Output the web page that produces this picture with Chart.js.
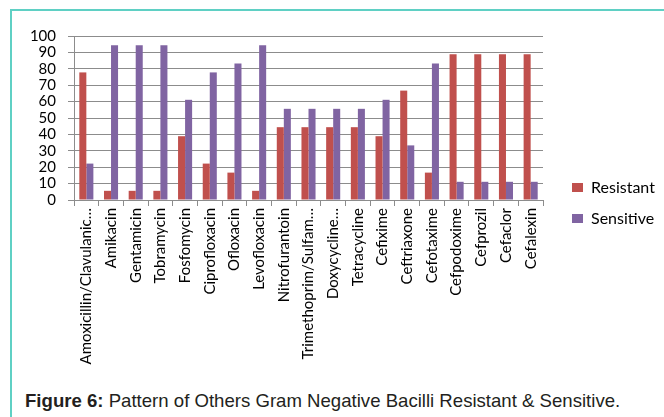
<!DOCTYPE html>
<html><head><meta charset="utf-8">
<script src="https://cdn.jsdelivr.net/npm/chart.js"></script>
<style>
html,body{margin:0;padding:0;background:#fff;}
#wrap{position:relative;width:664px;height:417px;overflow:hidden;background:#fff;}
#frameL{position:absolute;left:10px;top:9px;width:2px;height:408px;background:#5fd0c4;}
#frameT{position:absolute;left:10px;top:9px;width:654px;height:2px;background:#5fd0c4;}
canvas{position:absolute;left:0;top:0;}
#cap{position:absolute;left:25px;top:391px;font-family:"Liberation Sans",Arial,sans-serif;font-size:18.6px;line-height:1.12;color:#231f20;white-space:nowrap;}
</style></head>
<body><div id="wrap"><div id="frameL"></div><div id="frameT"></div>
<canvas id="c" width="664" height="380"></canvas>
<div id="cap"><b>Figure 6:</b> Pattern of Others Gram Negative Bacilli Resistant &amp; Sensitive.</div></div>
<script>
const categories = ["Amoxicillin/Clavulanic…","Amikacin","Gentamicin","Tobramycin","Fosfomycin","Ciprofloxacin","Ofloxacin","Levofloxacin","Nitrofurantoin","Trimethoprim/Sulfam…","Doxycycline…","Tetracycline","Cefixime","Ceftriaxone","Cefotaxime","Cefpodoxime","Cefprozil","Cefaclor","Cefalexin"];
const resistant = [77.8,5.6,5.6,5.6,38.9,22.2,16.7,5.6,44.4,44.4,44.4,44.4,38.9,66.7,16.7,88.9,88.9,88.9,88.9];
const sensitive = [22.2,94.4,94.4,94.4,61.1,77.8,83.3,94.4,55.6,55.6,55.6,55.6,61.1,33.3,83.3,11.1,11.1,11.1,11.1];
const seriesNames = ["Resistant","Sensitive"];
const yMin = 0, yMax = 100, yStep = 10;

const FONT = 'Lato, "Open Sans", sans-serif';
const GRID = '#8c8c8c';

const legendPlace = {
  id: 'legendPlace',
  afterLayout(chart) {
    const l = chart.legend;
    const pad = l.options.labels.padding;
    const w = l.width, h = l.height;
    l.left = 572 - pad; l.right = l.left + w;
    l.top = 164.5; l.bottom = l.top + h;
  }
};

new Chart(document.getElementById('c'), {
  type: 'bar',
  data: {
    labels: categories,
    datasets: [
      { label: seriesNames[0], data: resistant, backgroundColor: '#c0504d', categoryPercentage: 0.57, barPercentage: 1.0 },
      { label: seriesNames[1], data: sensitive, backgroundColor: '#8064a2', categoryPercentage: 0.57, barPercentage: 1.0 }
    ]
  },
  plugins: [legendPlace],
  options: {
    responsive: false,
    animation: false,
    layout: { padding: { left: 0, top: 36, right: 21, bottom: 0 } },
    plugins: {
      legend: {
        position: 'right', align: 'start', maxWidth: 100,
        labels: { font: { family: FONT, size: 16 }, color: '#000', boxWidth: 11, boxHeight: 9, padding: 15 }
      },
      tooltip: { enabled: false }
    },
    scales: {
      x: {
        grid: { drawOnChartArea: false, drawTicks: true, tickLength: 6, color: GRID, offset: true },
        border: { color: GRID },
        ticks: { autoSkip: false, maxRotation: 90, minRotation: 90, font: { family: FONT, size: 15 }, color: '#000', padding: 2 },
        afterFit(s) { s.height = 180; }
      },
      y: {
        min: yMin, max: yMax,
        grid: { color: GRID, tickLength: 6 },
        border: { color: GRID },
        ticks: { stepSize: yStep, autoSkip: false, font: { family: FONT, size: 15 }, color: '#000', padding: 12 },
        afterFit(s) { s.width = 74; }
      }
    }
  }
});
</script>
</body></html>
